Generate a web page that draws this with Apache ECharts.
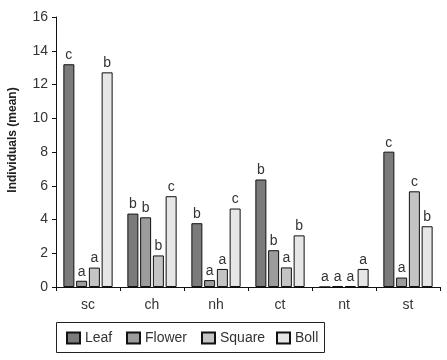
<!DOCTYPE html>
<html>
<head>
<meta charset="utf-8">
<script src="https://cdn.jsdelivr.net/npm/echarts@6/dist/echarts.min.js"></script>
<style>
  html, body { margin: 0; padding: 0; background: #fff; }
  #main { width: 447px; height: 360px; }
</style>
</head>
<body>
<div id="main"></div>
<script>
var categories = ['sc', 'ch', 'nh', 'ct', 'nt', 'st'];
var yTicks = [0, 2, 4, 6, 8, 10, 12, 14, 16];
var seriesNames = ['Leaf', 'Flower', 'Square', 'Boll'];

var leaf = [13.2, 4.35, 3.78, 6.37, 0, 8.02];
var flower = [0.37, 4.13, 0.41, 2.18, 0.05, 0.56];
var square = [1.15, 1.87, 1.07, 1.16, 0.05, 5.67];
var boll = [12.72, 5.38, 4.65, 3.06, 1.07, 3.6];

var leafLetters = ['c', 'b', 'b', 'b', 'a', 'c'];
var flowerLetters = ['a', 'b', 'a', 'b', 'a', 'a'];
var squareLetters = ['a', 'b', 'a', 'a', 'a', 'c'];
var bollLetters = ['b', 'c', 'c', 'b', 'a', 'b'];

var FONT = '"Liberation Sans", Arial, sans-serif';
var colors = ['#7b7b7b', '#9c9c9c', '#c4c4c4', '#e6e6e6'];

function mkSeries(name, data, letters, color) {
  return {
    name: name,
    type: 'bar',
    data: data,
    barWidth: 11,
    barGap: '16%',
    itemStyle: { color: color, borderColor: '#111', borderWidth: 1 },
    label: {
      show: true,
      position: 'top',
      distance: 2,
      color: '#333',
      fontFamily: FONT,
      fontSize: 14,
      formatter: function (p) { return letters[p.dataIndex]; }
    }
  };
}

// one legend per item so each sits where it does in the picture
var legendLeft = [66, 126, 201, 276];
var legends = seriesNames.map(function (n, i) {
  return {
    left: legendLeft[i], top: 331,
    padding: 0,
    icon: 'rect',
    itemWidth: 13, itemHeight: 11,
    textStyle: { fontFamily: FONT, fontSize: 14, color: '#333' },
    data: [n]
  };
});

var chart = echarts.init(document.getElementById('main'));
chart.setOption({
  animation: false,
  textStyle: { fontFamily: FONT },
  grid: { left: 56, right: 7, top: 17, bottom: 73 },
  legend: legends,
  graphic: [
    {
      type: 'rect',
      shape: { x: 56.5, y: 322.5, width: 268, height: 30 },
      style: { fill: 'none', stroke: '#222', lineWidth: 1 }
    },
    {
      type: 'text',
      x: 13, y: 140,
      rotation: Math.PI / 2,
      style: {
        text: 'Individuals (mean)',
        align: 'center', verticalAlign: 'middle',
        font: 'bold 12px ' + FONT,
        fill: '#222'
      }
    }
  ],
  xAxis: {
    type: 'category',
    data: categories,
    axisLine: { lineStyle: { color: '#111', width: 1 } },
    axisTick: { show: true, length: 4, lineStyle: { color: '#111' } },
    axisLabel: { color: '#333', fontSize: 14, margin: 11, fontFamily: FONT }
  },
  yAxis: {
    type: 'value',
    min: yTicks[0], max: yTicks[yTicks.length - 1], interval: 2,
    splitLine: { show: false },
    axisLine: { show: true, lineStyle: { color: '#111', width: 1 } },
    axisTick: { show: true, length: 4, lineStyle: { color: '#111' } },
    axisLabel: { color: '#333', fontSize: 14, margin: 8, fontFamily: FONT }
  },
  series: [
    mkSeries(seriesNames[0], leaf, leafLetters, colors[0]),
    mkSeries(seriesNames[1], flower, flowerLetters, colors[1]),
    mkSeries(seriesNames[2], square, squareLetters, colors[2]),
    mkSeries(seriesNames[3], boll, bollLetters, colors[3])
  ]
});
</script>
</body>
</html>
